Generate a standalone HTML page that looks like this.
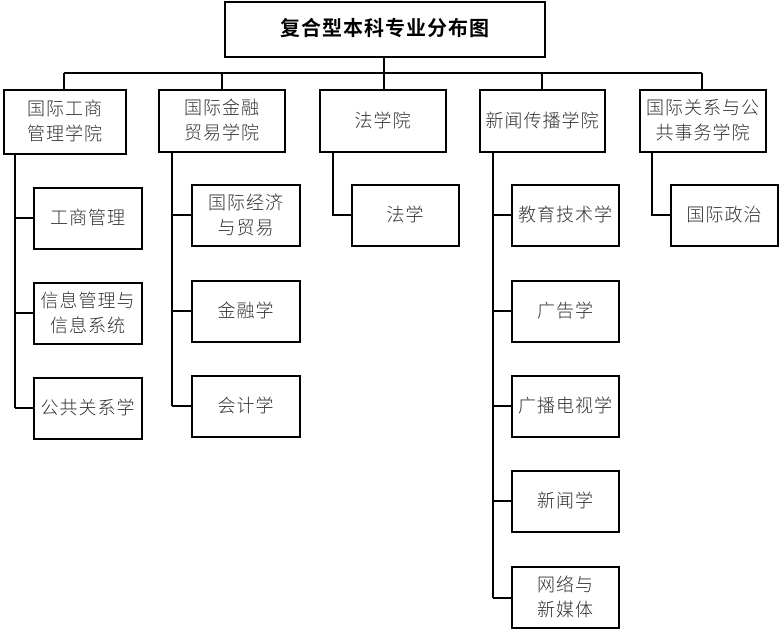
<!DOCTYPE html>
<html><head><meta charset="utf-8"><style>
body{margin:0;width:784px;height:632px;background:#fff;position:relative;overflow:hidden;font-family:"Liberation Sans","Noto Sans CJK SC",sans-serif;}
.b{position:absolute;box-sizing:border-box;border:2px solid #000;background:#fff;display:flex;align-items:center;justify-content:center;text-align:center;font-size:18px;letter-spacing:1px;line-height:25px;color:#333;font-weight:300;}
svg{position:absolute;left:0;top:0}
</style></head><body>
<svg width="784" height="632" stroke="#000" stroke-width="2" fill="none">
<path d="M64 73H702M384 57V73M64 73V89M222 73V89M384 73V89M542 73V89M702 73V89"/>
<path d="M15 155V408M15 218H33M15 313H33M15 408H33"/>
<path d="M172 152V406M172 215H191M172 311H191M172 406H191"/>
<path d="M333 152V215H351"/>
<path d="M493 152V598M493 215H511M493 311H511M493 406H511M493 501H511M493 598H511"/>
<path d="M652 152V215H670"/>
</svg>
<div class="b" style="left:224px;top:1px;width:322px;height:57px;font-weight:bold;font-size:20px;color:#000">复合型本科专业分布图</div>
<div class="b" style="left:3px;top:89px;width:124px;height:66px">国际工商<br>管理学院</div>
<div class="b" style="left:158px;top:89px;width:128px;height:64px">国际金融<br>贸易学院</div>
<div class="b" style="left:319px;top:89px;width:128px;height:64px">法学院</div>
<div class="b" style="left:479px;top:89px;width:127px;height:64px">新闻传播学院</div>
<div class="b" style="left:639px;top:89px;width:128px;height:64px">国际关系与公<br>共事务学院</div>
<div class="b" style="left:33px;top:187px;width:110px;height:63px">工商管理</div>
<div class="b" style="left:33px;top:282px;width:110px;height:63px">信息管理与<br>信息系统</div>
<div class="b" style="left:33px;top:377px;width:110px;height:63px">公共关系学</div>
<div class="b" style="left:191px;top:184px;width:110px;height:63px">国际经济<br>与贸易</div>
<div class="b" style="left:191px;top:280px;width:110px;height:63px">金融学</div>
<div class="b" style="left:191px;top:375px;width:110px;height:63px">会计学</div>
<div class="b" style="left:351px;top:184px;width:109px;height:63px">法学</div>
<div class="b" style="left:511px;top:184px;width:109px;height:63px">教育技术学</div>
<div class="b" style="left:511px;top:280px;width:109px;height:63px">广告学</div>
<div class="b" style="left:511px;top:375px;width:109px;height:63px">广播电视学</div>
<div class="b" style="left:511px;top:470px;width:109px;height:63px">新闻学</div>
<div class="b" style="left:511px;top:566px;width:109px;height:63px">网络与<br>新媒体</div>
<div class="b" style="left:670px;top:184px;width:109px;height:63px">国际政治</div>
</body></html>
